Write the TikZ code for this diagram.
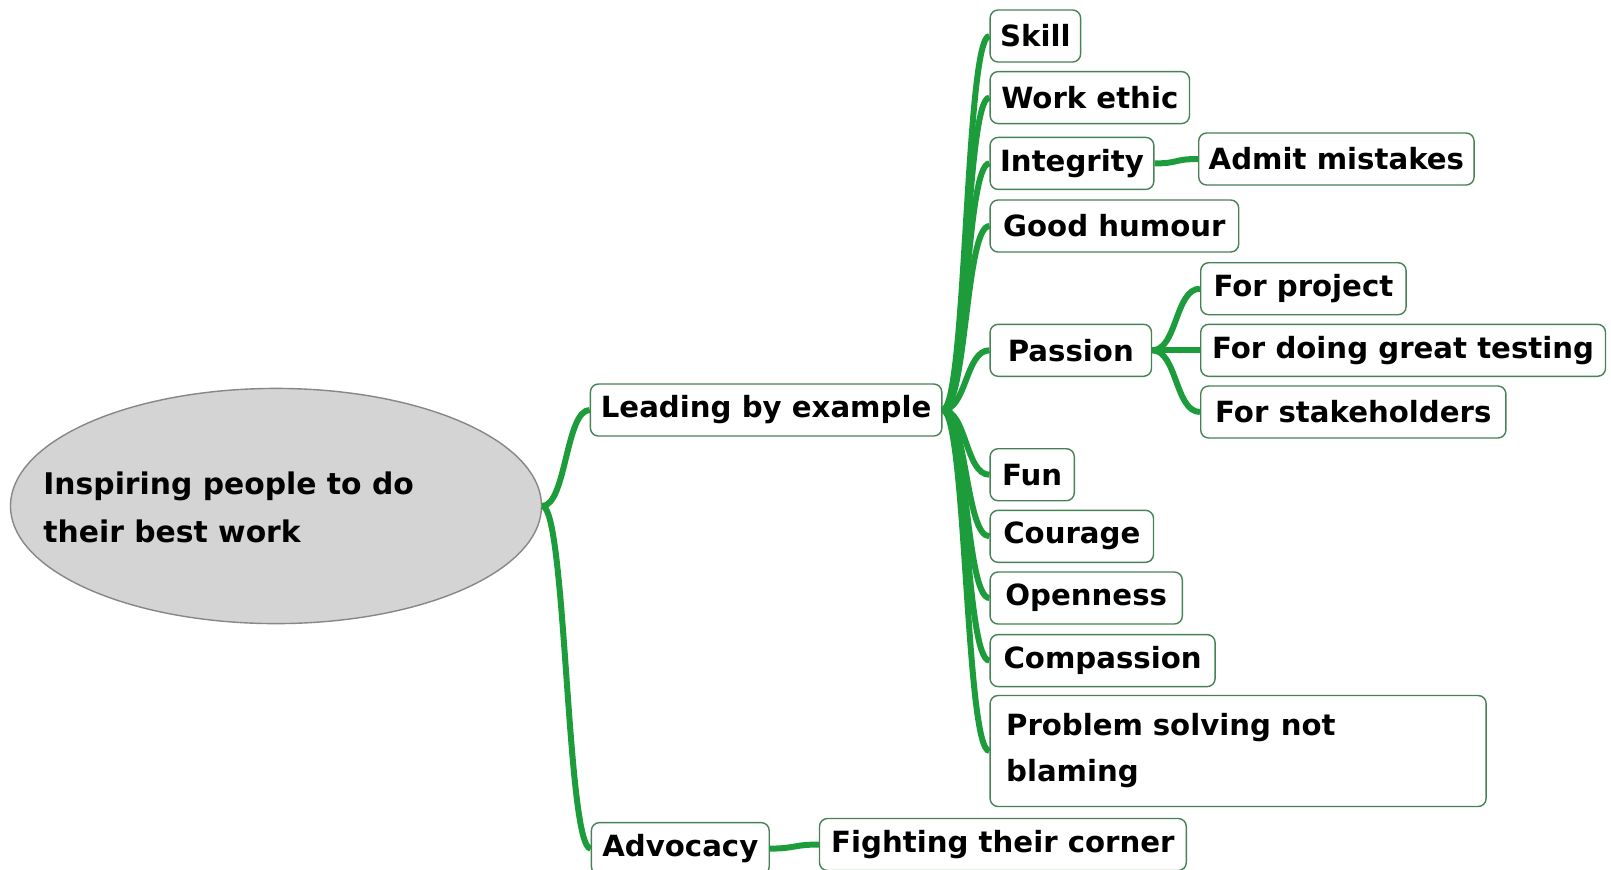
\documentclass[tikz,border=0pt]{standalone}
\usepackage{fontspec}
\newfontfamily\mapfont{DejaVu Sans}
\usetikzlibrary{shapes.geometric}
\definecolor{linkgreen}{RGB}{28,156,58}
\definecolor{boxgreen}{RGB}{70,130,85}
\definecolor{rootfill}{RGB}{212,212,212}
\definecolor{rootline}{RGB}{135,135,135}
\tikzset{
  box/.style={draw=boxgreen,fill=white,rounded corners=4pt,line width=0.7pt,
    anchor=west,minimum height=26pt,inner xsep=5pt,
    font=\mapfont\bfseries\fontsize{14.6}{17.5}\selectfont},
  branch/.style={draw=linkgreen,line width=3pt},
  rootnode/.style={ellipse,draw=rootline,fill=rootfill,line width=0.7pt,
    minimum width=265.5pt,minimum height=117.6pt,inner sep=0pt},
  roottext/.style={anchor=west,align=left,inner sep=0pt,
    font=\mapfont\bfseries\fontsize{14.9}{24}\selectfont}
}

\begin{document}
\begin{tikzpicture}[x=0.5pt,y=-0.5pt]
  \useasboundingbox (0,0) rectangle (1611,869);
  \clip (0,0) rectangle (1611,869);
  % root
  \path (276,506) node[rootnode] (root) {};
  \path (43,507) node[roottext] (rootlabel) {Inspiring people to do\\their best work};
  % first level
  \path (589.7,410) node[box,minimum width=175.7pt] (lead) {Leading by example};
  \path (590.7,848.6) node[box,minimum width=88.9pt] (adv) {Advocacy};
  \draw[branch] (root.east) .. controls +(24,0) and +(-24,0) .. (lead.west);
  \draw[branch] (root.east) .. controls +(24,0) and +(-24,0) .. (adv.west);
  % leading by example
  \foreach \n/\y/\w/\t in {skill/36/44.7pt/Skill, work/97.6/99.7pt/Work ethic,
      integ/163.4/79.1pt/Integrity, humour/226/124.3pt/Good humour,
      passion/350.3/80.7pt/Passion, fun/474.7/42.1pt/Fun,
      courage/536.3/81.7pt/Courage, open/598/96.1pt/Openness,
      compass/660.6/112.5pt/Compassion} {
    \path (989.4,\y) node[box,minimum width=\w] (\n) {\t};
    \draw[branch] (lead.east) .. controls +(24,0) and +(-24,0) .. (\n.west);
  }
  \path (989.4,751) node[box,text width=232pt,align=left,minimum height=55.5pt,
    inner xsep=8pt,font=\mapfont\bfseries\fontsize{14.6}{23}\selectfont] (prob)
    {Problem solving not\\blaming};
  \draw[branch] (lead.east) .. controls +(24,0) and +(-24,0) .. (prob.west);
  % integrity
  \path (1198,159) node[box,minimum width=134.6pt] (admit) {Admit mistakes};
  \draw[branch] (integ.east) .. controls +(25,0) and +(-25,0) .. (admit.west);
  % passion
  \foreach \n/\y/\w/\t in {proj/288.7/102.7pt/For project,
      testing/350.3/202.4pt/For doing great testing,
      stake/412/152.6pt/For stakeholders} {
    \path (1200,\y) node[box,minimum width=\w] (\n) {\t};
    \draw[branch] (passion.east) .. controls +(25,0) and +(-25,0) .. (\n.west);
  }
  % advocacy
  \path (818.8,844.5) node[box,minimum width=183.4pt] (fight) {Fighting their corner};
  \draw[branch] (adv.east) .. controls +(25,0) and +(-25,0) .. (fight.west);
\end{tikzpicture}
\end{document}
